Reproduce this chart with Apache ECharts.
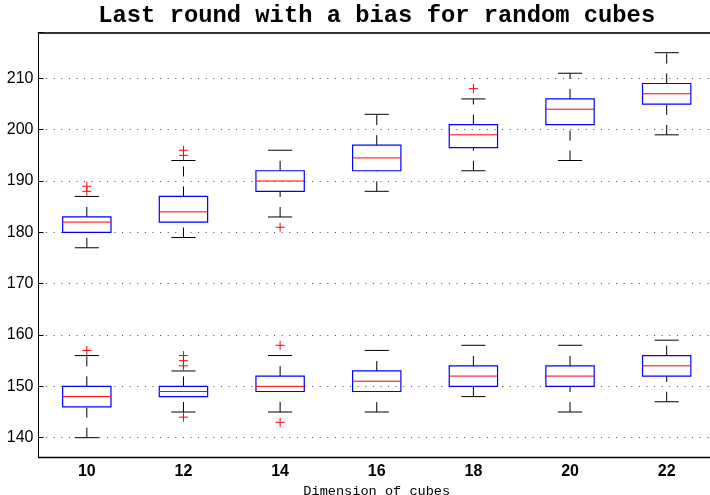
<!DOCTYPE html>
<html>
<head>
<meta charset="utf-8">
<script src="https://cdn.jsdelivr.net/npm/echarts@6/dist/echarts.min.js"></script>
<style>
html,body{margin:0;padding:0;background:#fff;}
#chart{width:710px;height:495px;}
</style>
</head>
<body>
<div id="chart"></div>
<script>
// ---- data ----
const categories = ['10', '12', '14', '16', '18', '20', '22'];
// [low whisker, Q1, median, Q3, high whisker]
const upperBoxes = [
  [177, 180, 182, 183, 187],
  [179, 182, 184, 187, 194],
  [183, 188, 190, 192, 196],
  [188, 192, 194.5, 197, 203],
  [192, 196.5, 199, 201, 206],
  [194, 201, 204, 206, 211],
  [199, 205, 207, 209, 215]
];
const lowerBoxes = [
  [140, 146, 148, 150, 156],
  [145, 148, 149, 150, 153],
  [145, 149, 150, 152, 156],
  [145, 149, 151, 153, 157],
  [148, 150, 152, 154, 158],
  [145, 150, 152, 154, 158],
  [147, 152, 154, 156, 159]
];
// [category index, value]
const upperOutliers = [[0, 188], [0, 189], [1, 195], [1, 196], [2, 181], [4, 208]];
const lowerOutliers = [[0, 157], [1, 154], [1, 155], [1, 156], [1, 144], [2, 158], [2, 143]];
const yTickLabels = [140, 150, 160, 170, 180, 190, 200, 210];
const titleText = 'Last round with a bias for random cubes';
const xAxisTitle = 'Dimension of cubes';

// ---- build ----
function boxData(arr) { return arr.map((b, i) => [i].concat(b)); }

function renderBox(params, api) {
  const idx = api.value(0);
  const low = api.coord([idx, api.value(1)]);
  const q1 = api.coord([idx, api.value(2)]);
  const med = api.coord([idx, api.value(3)]);
  const q3 = api.coord([idx, api.value(4)]);
  const high = api.coord([idx, api.value(5)]);
  const cw = api.size([1, 0])[0];
  const cx = low[0];
  const bw = cw * 0.5, capw = cw * 0.25;
  const dash = { stroke: '#000', lineWidth: 1, lineDash: [10, 10], fill: null };
  const solid = { stroke: '#000', lineWidth: 1, fill: null };
  return {
    type: 'group',
    children: [
      { type: 'line', shape: { x1: cx, y1: q3[1], x2: cx, y2: high[1] }, style: dash },
      { type: 'line', shape: { x1: cx, y1: low[1], x2: cx, y2: q1[1] }, style: dash },
      { type: 'line', shape: { x1: cx - capw / 2, y1: high[1], x2: cx + capw / 2, y2: high[1] }, style: solid },
      { type: 'line', shape: { x1: cx - capw / 2, y1: low[1], x2: cx + capw / 2, y2: low[1] }, style: solid },
      { type: 'rect', shape: { x: cx - bw / 2, y: q3[1], width: bw, height: q1[1] - q3[1] },
        style: { fill: null, stroke: '#0000ff', lineWidth: 1.2 } },
      { type: 'line', shape: { x1: cx - bw / 2, y1: med[1], x2: cx + bw / 2, y2: med[1] },
        style: { stroke: '#ff0000', lineWidth: 1, fill: null } }
    ]
  };
}

function renderOutlier(params, api) {
  const p = api.coord([api.value(0), api.value(1)]);
  const h = 4.5;
  const st = { stroke: '#ff0000', lineWidth: 1, fill: null };
  return {
    type: 'group',
    children: [
      { type: 'line', shape: { x1: p[0] - h, y1: p[1], x2: p[0] + h, y2: p[1] }, style: st },
      { type: 'line', shape: { x1: p[0], y1: p[1] - h, x2: p[0], y2: p[1] + h }, style: st }
    ]
  };
}

const chart = echarts.init(document.getElementById('chart'), null, { renderer: 'canvas' });
const option = {
  animation: false,
  backgroundColor: '#fff',
  title: {
    text: titleText,
    left: 376.7,
    top: 4,
    textAlign: 'center',
    padding: 0,
    textStyle: { fontFamily: 'Liberation Mono', fontWeight: 'bold', fontSize: 23.8, color: '#000' }
  },
  grid: { left: 38.5, right: -5, top: 32.7, bottom: 37.3, containLabel: false, outerBoundsMode: 'none' },
  xAxis: [{
    type: 'category',
    data: categories,
    boundaryGap: true,
    position: 'bottom',
    name: xAxisTitle,
    nameLocation: 'middle',
    nameGap: 23,
    nameTextStyle: { fontFamily: 'Liberation Mono', fontSize: 13.6, color: '#000' },
    axisLine: { lineStyle: { color: '#000', width: 1.3 } },
    axisTick: { show: false },
    axisLabel: { margin: 6, fontFamily: 'Liberation Sans', fontSize: 16, fontWeight: 'bold', color: '#000' },
    splitLine: { show: false }
  }, {
    type: 'category',
    data: categories,
    position: 'top',
    axisLine: { lineStyle: { color: '#333', width: 2 } },
    axisTick: { show: false },
    axisLabel: { show: false },
    splitLine: { show: false }
  }],
  yAxis: {
    type: 'value',
    min: 136.1,
    max: 218.9,
    splitNumber: 8,
    axisLine: { show: true, lineStyle: { color: '#000', width: 1 } },
    axisTick: { show: true, inside: true, length: 5, lineStyle: { color: '#000' } },
    axisLabel: {
      margin: 5, fontFamily: 'Liberation Sans', fontSize: 16, color: '#000',
      formatter: function (v) { return yTickLabels.indexOf(Math.round(v * 1000) / 1000) >= 0 ? String(v) : ''; }
    },
    splitLine: { show: true, lineStyle: { color: '#444', width: 1, type: [1, 6.6] } }
  },
  series: [
    { type: 'custom', name: 'upper', renderItem: renderBox, data: boxData(upperBoxes),
      encode: { x: 0, y: [1, 2, 3, 4, 5] }, z: 3 },
    { type: 'custom', name: 'lower', renderItem: renderBox, data: boxData(lowerBoxes),
      encode: { x: 0, y: [1, 2, 3, 4, 5] }, z: 3 },
    { type: 'custom', name: 'upperOut', renderItem: renderOutlier, data: upperOutliers,
      encode: { x: 0, y: 1 }, z: 4 },
    { type: 'custom', name: 'lowerOut', renderItem: renderOutlier, data: lowerOutliers,
      encode: { x: 0, y: 1 }, z: 4 }
  ]
};
chart.setOption(option);
</script>
</body>
</html>
